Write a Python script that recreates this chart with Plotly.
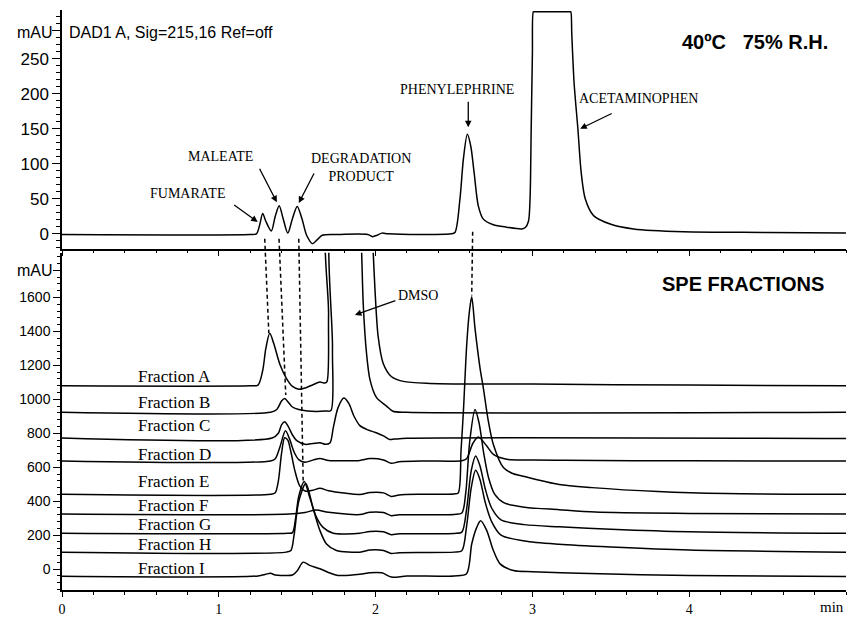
import plotly.graph_objects as go

# ---------------- data ----------------
TOP_T = [0, 1.20, 1.24, 1.26, 1.28, 1.30, 1.335, 1.36, 1.385, 1.41, 1.44, 1.47, 1.50, 1.53, 1.56,
         1.598, 1.63, 1.66, 1.75, 1.95, 1.98, 2.01, 2.04, 2.08, 2.30, 2.48, 2.506, 2.538, 2.56,
         2.585, 2.607, 2.628, 2.655, 2.687, 2.751, 2.836, 2.932, 2.955, 2.975, 2.985, 2.992,
         3.0, 3.006, 3.012, 3.24, 3.245, 3.251, 3.266, 3.290, 3.311, 3.337, 3.390, 3.496,
         3.645, 3.964, 4.5, 5.0]
TOP_V = [-1, -1, 0, 12, 29, 18, 4, 25, 40, 22, 1, 22, 39, 22, -2,
         -14, -8, -2, -1, -1, -4, -2, 1, 0, -1, 0, 2, 50, 107,
         142, 125, 88, 40, 21, 13, 9.5, 7, 9, 18, 50, 145,
         258, 317, 317, 317, 317, 286, 215, 150, 88, 50, 26, 14,
         7, 3, 2, 1]

A_T = [0, 1.20, 1.25, 1.28, 1.30, 1.325, 1.35, 1.39, 1.43, 1.47, 1.51, 1.56, 1.60, 1.645, 1.675,
       1.69, 1.70, 1.71, 1.97, 1.985, 1.995, 2.016, 2.048, 2.10, 2.176, 2.347, 3.0, 4.0, 5.0]
A_V = [1080, 1080, 1084, 1170, 1300, 1389, 1330, 1205, 1125, 1076, 1060, 1070, 1086, 1102, 1096,
       1105, 1500, 2100, 2100, 1860, 1665, 1372, 1213, 1135, 1106, 1094, 1090, 1084, 1080]

B_T = [0, 1.33, 1.37, 1.40, 1.42, 1.45, 1.47, 1.51, 1.59, 1.68, 1.715, 1.725, 1.735, 1.90,
       1.911, 1.921, 1.942, 1.964, 2.006, 2.07, 2.11, 2.2, 5.0]
B_V = [924, 924, 940, 990, 1005, 975, 955, 940, 930, 931, 935, 1300, 2100, 2100,
       1865, 1565, 1272, 1116, 1010, 960, 930, 924, 924]

C_T = [0, 1.34, 1.38, 1.40, 1.42, 1.44, 1.47, 1.50, 1.55, 1.60, 1.645, 1.68, 1.71, 1.73, 1.76,
       1.797, 1.83, 1.86, 1.90, 1.95, 2.0, 2.05, 2.09, 2.12, 2.2, 5.0]
C_V = [772, 772, 800, 850, 868, 845, 790, 755, 735, 740, 745, 735, 745, 832, 950,
       1008, 975, 905, 845, 820, 805, 785, 764, 766, 771, 770]

D_T = [0, 1.33, 1.36, 1.39, 1.425, 1.45, 1.48, 1.51, 1.55, 1.60, 1.645, 1.70, 1.80, 1.90, 1.964,
       2.05, 2.10, 2.15, 2.3, 2.55, 2.58, 2.62, 2.655, 2.709, 2.751, 2.836, 3.0, 3.2, 4.0, 5.0]
D_V = [637, 637, 650, 720, 815, 770, 690, 645, 630, 642, 652, 640, 638, 640, 651,
       643, 623, 632, 637, 638, 650, 740, 778, 725, 676, 647, 643, 641, 638, 637]

E_T = [0, 1.33, 1.36, 1.38, 1.40, 1.42, 1.44, 1.46, 1.485, 1.516, 1.55, 1.60, 1.645, 1.70, 1.80,
       1.90, 1.964, 2.05, 2.10, 2.15, 2.3, 2.50, 2.527, 2.545, 2.56, 2.581, 2.598, 2.613, 2.634,
       2.666, 2.687, 2.719, 2.751, 2.815, 2.87, 2.95, 3.17, 3.38, 3.8, 4.23, 5.0]
E_V = [441, 441, 450, 520, 680, 774, 760, 690, 580, 490, 460, 465, 476, 462, 448,
       440, 451, 449, 428, 437, 441, 443, 448, 700, 930, 1320, 1516, 1604, 1418,
       1184, 1067, 872, 734, 598, 565, 545, 498, 480, 457, 445, 441]

F_T = [0, 1.45, 1.55, 1.62, 1.70, 1.90, 1.964, 2.05, 2.10, 2.15, 2.50, 2.55, 2.575, 2.60, 2.634,
       2.66, 2.69, 2.72, 2.76, 2.82, 2.95, 3.17, 3.40, 4.0, 5.0]
F_V = [324, 324, 334, 348, 335, 321, 335, 333, 315, 320, 322, 330, 450, 750, 940,
       860, 680, 540, 440, 390, 365, 350, 336, 328, 324]

G_T = [0, 1.44, 1.47, 1.49, 1.51, 1.545, 1.58, 1.623, 1.665, 1.73, 1.80, 1.90, 1.964, 2.05, 2.10,
       2.15, 2.50, 2.55, 2.58, 2.61, 2.638, 2.665, 2.70, 2.74, 2.80, 2.95, 3.17, 3.5, 4.0, 5.0]
G_V = [211, 211, 215, 300, 430, 516, 422, 305, 246, 211, 207, 211, 222, 220, 203,
       208, 210, 218, 350, 580, 666, 610, 470, 360, 290, 262, 249, 235, 220, 211]

H_T = [0, 1.43, 1.46, 1.48, 1.51, 1.555, 1.60, 1.645, 1.687, 1.75, 1.90, 1.964, 2.05, 2.10, 2.15,
       2.50, 2.55, 2.58, 2.61, 2.638, 2.665, 2.70, 2.74, 2.80, 2.95, 3.17, 3.5, 4.0, 5.0]
H_V = [100, 100, 110, 200, 400, 504, 363, 227, 148, 110, 100, 113, 110, 92, 97,
       100, 108, 250, 480, 582, 530, 390, 280, 200, 165, 146, 130, 112, 100]

I_T = [0, 1.25, 1.30, 1.33, 1.36, 1.40, 1.47, 1.50, 1.538, 1.58, 1.645, 1.708, 1.76, 1.90, 1.964,
       2.04, 2.10, 2.20, 2.50, 2.58, 2.613, 2.645, 2.67, 2.709, 2.751, 2.794, 2.879, 3.0, 3.3, 4.0, 5.0]
I_V = [-42, -40, -30, -25, -35, -37, -35, -10, 41, 22, 2, -23, -37, -31, -21,
       -22, -47, -41, -40, -27, 148, 246, 285, 227, 110, 31, -8, -15, -25, -38, -43]

FRACTION_NAMES = ["Fraction A", "Fraction B", "Fraction C", "Fraction D", "Fraction E",
                  "Fraction F", "Fraction G", "Fraction H", "Fraction I"]
FRACTION_LABEL_Y = [1137, 979, 844, 674, 516, 375, 264, 147, 6]

TOP_YTICKS = [0, 50, 100, 150, 200, 250]
BOT_YTICKS = [0, 200, 400, 600, 800, 1000, 1200, 1400, 1600]
X_TICKS = [0, 1, 2, 3, 4]

# peak labels: (text, text_x, text_y, arrow_tip_x, arrow_tip_y, ax, ay)
TOP_LABELS = [
    ("FUMARATE", 0.80, 58, 1.248, 17, -25, -18),
    ("MALEATE", 1.012, 111, 1.37, 45, -18, -35),
    ("DEGRADATION<br>PRODUCT", 1.909, 95, 1.51, 44, 16, -31),
    ("PHENYLEPHRINE", 2.522, 206, 2.591, 152, 0, -27),
    ("ACETAMINOPHEN", 3.675, 193, 3.305, 150, 33, -16),
]
DMSO_LABEL = ("DMSO", 2.27, 1612, 1.868, 1497, 42, -15)

# dashed guide lines: (top x, top y [top axis], bottom x, bottom y [bottom axis])
GUIDES = [(1.293, -7, 1.319, 1389), (1.384, -7, 1.427, 1026),
          (1.510, -7, 1.538, 522), (2.619, 3, 2.613, 1612)]

# ---------------- figure ----------------
SANS = "Liberation Sans, Arial, sans-serif"
SERIF = "Liberation Serif, Times New Roman, serif"

TOP_DOM = [0.5784, 0.9831]
TOP_RNG = [-21.3, 319.6]
BOT_DOM = [0.0, 0.5717]
BOT_RNG = [-123.1, 1864]

fig = go.Figure()
line = dict(color="black", width=1.5, shape="spline", smoothing=0.8)
fig.add_trace(go.Scatter(x=TOP_T, y=TOP_V, mode="lines", line=line, xaxis="x", yaxis="y",
                         showlegend=False, hoverinfo="skip"))
for t, v in [(A_T, A_V), (B_T, B_V), (C_T, C_V), (D_T, D_V), (E_T, E_V),
             (F_T, F_V), (G_T, G_V), (H_T, H_V), (I_T, I_V)]:
    fig.add_trace(go.Scatter(x=t, y=v, mode="lines", line=line, xaxis="x2", yaxis="y2",
                             showlegend=False, hoverinfo="skip"))

axis_common = dict(showline=True, linecolor="black", linewidth=1.5, showgrid=False,
                   zeroline=False, ticks="outside", tickcolor="black", tickwidth=1.2,
                   automargin=False)

fig.update_layout(
    width=850, height=618,
    margin=dict(l=62, r=4, t=0, b=28),
    paper_bgcolor="white", plot_bgcolor="white",
    xaxis=dict(axis_common, domain=[0, 1], range=[0, 5], anchor="y", tickvals=X_TICKS,
               ticklen=6, showticklabels=False,
               minor=dict(dtick=0.2, tick0=0, ticklen=3, ticks="outside", tickcolor="black")),
    yaxis=dict(axis_common, domain=TOP_DOM, range=TOP_RNG, anchor="x",
               tickvals=TOP_YTICKS + [290], ticktext=[str(v) for v in TOP_YTICKS] + [""],
               ticklen=8, tickfont=dict(family=SANS, size=17, color="black"),
               minor=dict(dtick=10, tick0=0, ticklen=4, ticks="outside", tickcolor="black")),
    xaxis2=dict(axis_common, domain=[0, 1], range=[0, 5], anchor="y2", matches="x",
                tickvals=X_TICKS, ticktext=[str(v) for v in X_TICKS], ticklen=5,
                ticklabelstandoff=0,
                tickfont=dict(family=SERIF, size=14, color="black"),
                minor=dict(dtick=0.2, tick0=0, ticklen=3, ticks="outside", tickcolor="black")),
    yaxis2=dict(axis_common, domain=BOT_DOM, range=BOT_RNG, anchor="x2",
                tickvals=BOT_YTICKS + [1760], ticktext=[str(v) for v in BOT_YTICKS] + [""],
                ticklen=7, tickfont=dict(family=SANS, size=14, color="black"),
                minor=dict(dtick=40, tick0=0, ticklen=3.5, ticks="outside", tickcolor="black")),
)

ann = []
ann.append(dict(text="mAU", xref="paper", yref="y", x=0, y=288, xanchor="right", xshift=-7,
                showarrow=False, font=dict(family=SANS, size=16, color="black")))
ann.append(dict(text="mAU", xref="paper", yref="y2", x=0, y=1758, xanchor="right", xshift=-7,
                showarrow=False, font=dict(family=SANS, size=16, color="black")))
ann.append(dict(text="DAD1 A, Sig=215,16 Ref=off", xref="x", yref="y", x=0.035, y=288,
                xanchor="left", showarrow=False, font=dict(family=SANS, size=16, color="black")))
ann.append(dict(text="<b>40ºC   75% R.H.</b>", xref="x", yref="y", x=4.90, y=274,
                xanchor="right", showarrow=False, font=dict(family=SANS, size=20, color="black")))
ann.append(dict(text="<b>SPE FRACTIONS</b>", xref="x2", yref="y2", x=4.87, y=1682,
                xanchor="right", showarrow=False, font=dict(family=SANS, size=20, color="black")))
ann.append(dict(text="min", xref="paper", yref="paper", x=1, y=-0.029, xanchor="right",
                xshift=0, yanchor="middle", showarrow=False,
                font=dict(family=SERIF, size=15, color="black")))

for text, tx, ty, px, py, ax, ay in TOP_LABELS:
    ann.append(dict(text=text, xref="x", yref="y", x=tx, y=ty, showarrow=False,
                    font=dict(family=SERIF, size=14, color="black")))
    ann.append(dict(text="", xref="x", yref="y", x=px, y=py, ax=ax, ay=ay, showarrow=True,
                    arrowhead=2, arrowsize=1, arrowwidth=1.3, arrowcolor="black"))
text, tx, ty, px, py, ax, ay = DMSO_LABEL
ann.append(dict(text=text, xref="x2", yref="y2", x=tx, y=ty, showarrow=False,
                font=dict(family=SERIF, size=14, color="black")))
ann.append(dict(text="", xref="x2", yref="y2", x=px, y=py, ax=ax, ay=ay, showarrow=True,
                arrowhead=2, arrowsize=1, arrowwidth=1.3, arrowcolor="black"))

for name, ly in zip(FRACTION_NAMES, FRACTION_LABEL_Y):
    ann.append(dict(text=name, xref="x2", yref="y2", x=0.469, y=ly, xanchor="left",
                    showarrow=False, font=dict(family=SERIF, size=17, color="black")))

fig.update_layout(annotations=ann)


def to_paper(v, dom, rng):
    return dom[0] + (v - rng[0]) / (rng[1] - rng[0]) * (dom[1] - dom[0])


shapes = []
for x0, y0, x1, y1 in GUIDES:
    shapes.append(dict(type="line", xref="x", yref="paper", x0=x0, x1=x1,
                       y0=to_paper(y0, TOP_DOM, TOP_RNG), y1=to_paper(y1, BOT_DOM, BOT_RNG),
                       line=dict(color="black", width=1.5, dash="4px,3px"), layer="above"))
fig.update_layout(shapes=shapes)

fig.write_html("out.html", config={"displayModeBar": False},
               post_script="document.body.style.margin='0';document.body.style.overflow='hidden';")
